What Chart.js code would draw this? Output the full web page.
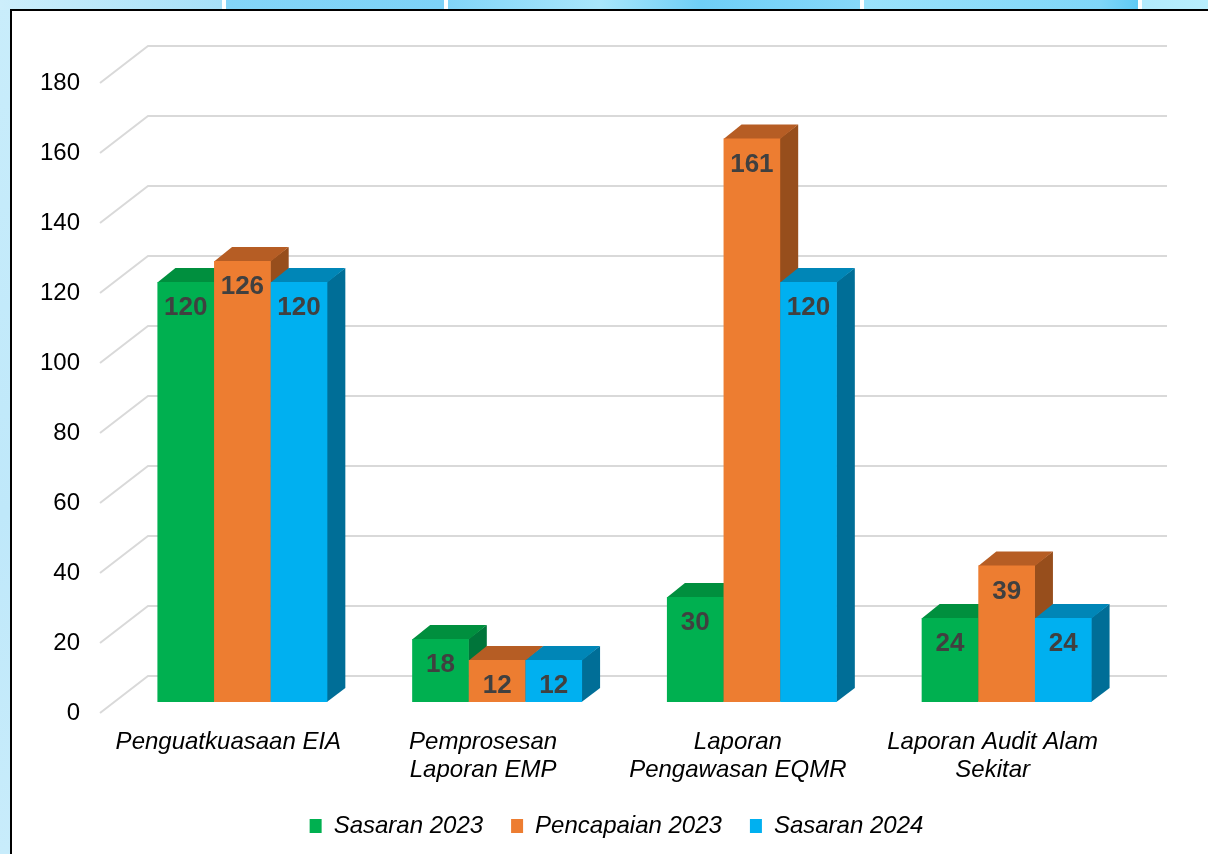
<!DOCTYPE html>
<html>
<head>
<meta charset="utf-8">
<script src="https://cdn.jsdelivr.net/npm/chart.js@4"></script>
<style>
  html, body { margin:0; padding:0; width:1208px; height:854px; overflow:hidden; }
  body { background: linear-gradient(to bottom, #c9edfb, #bfe8fa 60%, #c8ecfb); position:relative; }
  #strip { position:absolute; left:0; top:0; width:1208px; height:10px;
    background: linear-gradient(to right,
      #cdeefb 0px, #a6e0f8 222px, #ffffff 222px, #ffffff 226px,
      #84d5f8 226px, #7dd2f7 444px, #ffffff 444px, #ffffff 448px,
      #82d5f8 448px, #a9e6fb 600px, #6fcff7 700px, #86d8f9 860px, #ffffff 860px, #ffffff 864px,
      #9be2fb 864px, #7fd6f8 1100px, #5fcaf5 1138px, #ffffff 1138px, #ffffff 1142px,
      #b2ebfd 1142px, #b8eefd 1208px); }
  #panel { position:absolute; left:10px; top:9px; width:1300px; height:900px; background:#fff;
    border-left:2px solid #000; border-top:2px solid #000; box-sizing:border-box; }
  #wrap { position:absolute; left:0; top:0; width:1208px; height:854px; }
</style>
</head>
<body>
<div id="strip"></div>
<div id="panel"></div>
<div id="wrap"><canvas id="c" width="1208" height="854"></canvas></div>
<script>
const categories = [
  ["Penguatkuasaan EIA"],
  ["Pemprosesan", "Laporan EMP"],
  ["Laporan", "Pengawasan EQMR"],
  ["Laporan Audit Alam", "Sekitar"]
];
const seriesNames = ["Sasaran 2023", "Pencapaian 2023", "Sasaran 2024"];
const sasaran2023 = [120, 18, 30, 24];
const pencapaian2023 = [126, 12, 161, 39];
const sasaran2024 = [120, 12, 120, 24];
const yTicks = [0, 20, 40, 60, 80, 100, 120, 140, 160, 180];

const frontColors = ["#00B050", "#ED7D31", "#00B0F0"];
const topColors = ["#008F3E", "#B65D24", "#0086B7"];
const sideColors = ["#00753A", "#974E1C", "#006E97"];

const FONT = "'Liberation Sans', Arial, sans-serif";
const BAR_DX = 14, BAR_DY = -11;      // bar front plane vs. axis plane
const DEP_DX = 18, DEP_DY = -14;      // bar depth
const GRID_DX = 47, GRID_DY = -37;    // wall depth

const plot3d = {
  id: 'plot3d',
  beforeDatasetsDraw(chart) {
    const ctx = chart.ctx;
    const ys = chart.scales.y;
    const area = chart.chartArea;
    ctx.save();
    // gridlines (3D wall)
    ctx.strokeStyle = '#d9d9d9';
    ctx.lineWidth = 2;
    yTicks.forEach(v => {
      const y = ys.getPixelForValue(v);
      ctx.beginPath();
      ctx.moveTo(area.left - 1, y);
      ctx.lineTo(area.left + GRID_DX, y + GRID_DY);
      ctx.lineTo(area.right + GRID_DX, y + GRID_DY);
      ctx.stroke();
    });
    // bars
    const labelsToDraw = [];
    chart.data.datasets.forEach((ds, di) => {
      const meta = chart.getDatasetMeta(di);
      meta.data.forEach((el, i) => {
        const p = el.getProps(['x', 'y', 'base', 'width'], true);
        const x0 = p.x - p.width / 2 + BAR_DX;
        const x1 = p.x + p.width / 2 + BAR_DX;
        const yt = p.y + BAR_DY;
        const yb = p.base + BAR_DY;
        // side face
        ctx.fillStyle = sideColors[di];
        ctx.beginPath();
        ctx.moveTo(x1 - 0.5, yt);
        ctx.lineTo(x1 + DEP_DX, yt + DEP_DY);
        ctx.lineTo(x1 + DEP_DX, yb + DEP_DY);
        ctx.lineTo(x1 - 0.5, yb);
        ctx.closePath();
        ctx.fill();
        // top face
        ctx.fillStyle = topColors[di];
        ctx.beginPath();
        ctx.moveTo(x0, yt + 0.5);
        ctx.lineTo(x1, yt + 0.5);
        ctx.lineTo(x1 + DEP_DX, yt + DEP_DY);
        ctx.lineTo(x0 + DEP_DX, yt + DEP_DY);
        ctx.closePath();
        ctx.fill();
        // front face
        ctx.fillStyle = frontColors[di];
        ctx.fillRect(x0, yt, x1 - x0, yb - yt);
        labelsToDraw.push({x: (x0 + x1) / 2, y: yt + 26, t: String(ds.data[i])});
      });
    });
    ctx.fillStyle = '#404040';
    ctx.font = 'bold 26px ' + FONT;
    ctx.textAlign = 'center';
    ctx.textBaseline = 'middle';
    labelsToDraw.forEach(l => ctx.fillText(l.t, l.x, l.y));
    ctx.restore();
    return false;
  }
};

new Chart(document.getElementById('c'), {
  type: 'bar',
  data: {
    labels: categories,
    datasets: [
      { label: seriesNames[0], data: sasaran2023, backgroundColor: frontColors[0], borderWidth: 0 },
      { label: seriesNames[1], data: pencapaian2023, backgroundColor: frontColors[1], borderWidth: 0 },
      { label: seriesNames[2], data: sasaran2024, backgroundColor: frontColors[2], borderWidth: 0 }
    ]
  },
  options: {
    responsive: false,
    animation: false,
    events: [],
    layout: { padding: { left: 30, right: 5, top: 83, bottom: 6 } },
    datasets: { bar: { categoryPercentage: 0.667, barPercentage: 1.0 } },
    scales: {
      x: {
        grid: { display: false, drawTicks: false },
        border: { display: false },
        ticks: {
          padding: 15,
          color: '#000',
          font: { family: FONT, size: 24, style: 'italic', lineHeight: 1.167 },
          maxRotation: 0, autoSkip: false
        },
        afterFit(s) { s.height = 73; }
      },
      y: {
        min: 0, max: 180,
        grid: { display: false, drawTicks: false },
        border: { display: false },
        ticks: {
          stepSize: 20, padding: 21, color: '#000',
          font: { family: FONT, size: 24 }
        },
        afterFit(s) { s.width = 71; }
      },
      yR: {
        position: 'right', display: true,
        grid: { display: false, drawTicks: false },
        border: { display: false },
        ticks: { display: false },
        afterFit(s) { s.width = 83; }
      }
    },
    plugins: {
      tooltip: { enabled: false },
      legend: {
        position: 'bottom',
        labels: {
          boxWidth: 12, boxHeight: 14, padding: 28, color: '#000',
          font: { family: FONT, size: 24, style: 'italic' }
        }
      }
    }
  },
  plugins: [plot3d]
});
</script>
</body>
</html>
